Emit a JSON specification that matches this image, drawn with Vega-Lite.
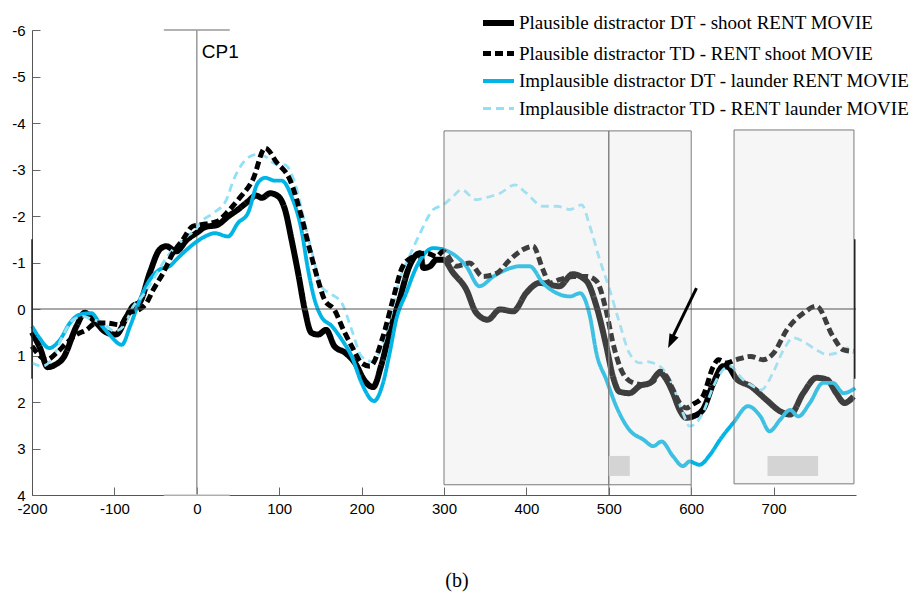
{
  "$schema": "https://vega.github.io/schema/vega-lite/v6.json",
  "width": 824,
  "height": 465,
  "autosize": {"type": "none"},
  "padding": {"left": 32, "top": 30, "right": 58, "bottom": 100},
  "background": "white",
  "config": {
    "view": {"stroke": null},
    "axis": {"labelFont": "Liberation Sans", "labelFontSize": 15, "labelColor": "#000", "domainColor": "#555", "tickColor": "#555", "grid": false, "title": null, "labelFlush": false}
  },
  "title": {"text": "(b)", "orient": "bottom", "anchor": "middle", "font": "Liberation Serif", "fontSize": 20, "fontWeight": "normal", "offset": 55, "dx": 13, "color": "#000"},
  "datasets": {
    "curves": [
      {"s":"pDT","t":-200,"v":0.5},{"s":"pDT","t":-190,"v":0.85},{"s":"pDT","t":-181,"v":1.25},{"s":"pDT","t":-172,"v":1.2},{"s":"pDT","t":-162,"v":1.05},{"s":"pDT","t":-146,"v":0.37},{"s":"pDT","t":-136,"v":0.08},{"s":"pDT","t":-126,"v":0.22},{"s":"pDT","t":-110,"v":0.5},{"s":"pDT","t":-98,"v":0.55},{"s":"pDT","t":-85,"v":0.16},{"s":"pDT","t":-78,"v":-0.05},{"s":"pDT","t":-69,"v":-0.15},{"s":"pDT","t":-57,"v":-0.78},{"s":"pDT","t":-45,"v":-1.28},{"s":"pDT","t":-37,"v":-1.35},{"s":"pDT","t":-25,"v":-1.24},{"s":"pDT","t":-12,"v":-1.49},{"s":"pDT","t":0,"v":-1.64},{"s":"pDT","t":10,"v":-1.76},{"s":"pDT","t":25,"v":-1.81},{"s":"pDT","t":38,"v":-1.99},{"s":"pDT","t":50,"v":-2.14},{"s":"pDT","t":62,"v":-2.31},{"s":"pDT","t":72,"v":-2.44},{"s":"pDT","t":79,"v":-2.39},{"s":"pDT","t":89,"v":-2.49},{"s":"pDT","t":99,"v":-2.42},{"s":"pDT","t":107,"v":-2.14},{"s":"pDT","t":115,"v":-1.49},{"s":"pDT","t":123,"v":-0.77},{"s":"pDT","t":131,"v":0.01},{"s":"pDT","t":139,"v":0.51},{"s":"pDT","t":147,"v":0.55},{"s":"pDT","t":157,"v":0.45},{"s":"pDT","t":167,"v":0.8},{"s":"pDT","t":180,"v":0.94},{"s":"pDT","t":192,"v":1.16},{"s":"pDT","t":204,"v":1.55},{"s":"pDT","t":214,"v":1.68},{"s":"pDT","t":224,"v":1.2},{"s":"pDT","t":234,"v":0.51},{"s":"pDT","t":246,"v":-0.2},{"s":"pDT","t":258,"v":-0.92},{"s":"pDT","t":271,"v":-1.2},{"s":"pDT","t":275,"v":-0.88},{"s":"pDT","t":283,"v":-0.92},{"s":"pDT","t":291,"v":-1.06},{"s":"pDT","t":299,"v":-1.06},{"s":"pDT","t":311,"v":-0.78},{"s":"pDT","t":327,"v":-0.42},{"s":"pDT","t":339,"v":0.08},{"s":"pDT","t":353,"v":0.23},{"s":"pDT","t":368,"v":0.01},{"s":"pDT","t":384,"v":0.05},{"s":"pDT","t":400,"v":-0.35},{"s":"pDT","t":416,"v":-0.56},{"s":"pDT","t":440,"v":-0.49},{"s":"pDT","t":456,"v":-0.75},{"s":"pDT","t":473,"v":-0.6},{"s":"pDT","t":485,"v":-0.06},{"s":"pDT","t":497,"v":0.8},{"s":"pDT","t":505,"v":1.45},{"s":"pDT","t":513,"v":1.78},{"s":"pDT","t":525,"v":1.81},{"s":"pDT","t":538,"v":1.65},{"s":"pDT","t":550,"v":1.59},{"s":"pDT","t":562,"v":1.37},{"s":"pDT","t":570,"v":1.52},{"s":"pDT","t":578,"v":1.81},{"s":"pDT","t":586,"v":2.17},{"s":"pDT","t":594,"v":2.34},{"s":"pDT","t":602,"v":2.31},{"s":"pDT","t":614,"v":2.17},{"s":"pDT","t":627,"v":1.59},{"s":"pDT","t":639,"v":1.23},{"s":"pDT","t":645,"v":1.25},{"s":"pDT","t":655,"v":1.5},{"s":"pDT","t":672,"v":1.66},{"s":"pDT","t":691,"v":1.95},{"s":"pDT","t":708,"v":2.2},{"s":"pDT","t":720,"v":2.27},{"s":"pDT","t":736,"v":1.81},{"s":"pDT","t":752,"v":1.48},{"s":"pDT","t":765,"v":1.52},{"s":"pDT","t":776,"v":1.81},{"s":"pDT","t":786,"v":2.02},{"s":"pDT","t":797,"v":1.88},

      {"s":"iDT","t":-200,"v":0.37},{"s":"iDT","t":-191,"v":0.62},{"s":"iDT","t":-179,"v":0.84},{"s":"iDT","t":-166,"v":0.66},{"s":"iDT","t":-154,"v":0.3},{"s":"iDT","t":-142,"v":0.12},{"s":"iDT","t":-128,"v":0.09},{"s":"iDT","t":-118,"v":0.3},{"s":"iDT","t":-106,"v":0.55},{"s":"iDT","t":-91,"v":0.77},{"s":"iDT","t":-81,"v":0.37},{"s":"iDT","t":-69,"v":-0.2},{"s":"iDT","t":-57,"v":-0.63},{"s":"iDT","t":-45,"v":-0.85},{"s":"iDT","t":-33,"v":-0.92},{"s":"iDT","t":-25,"v":-1.06},{"s":"iDT","t":-12,"v":-1.28},{"s":"iDT","t":0,"v":-1.45},{"s":"iDT","t":10,"v":-1.56},{"s":"iDT","t":22,"v":-1.63},{"s":"iDT","t":38,"v":-1.56},{"s":"iDT","t":50,"v":-1.85},{"s":"iDT","t":62,"v":-2.06},{"s":"iDT","t":74,"v":-2.71},{"s":"iDT","t":83,"v":-2.82},{"s":"iDT","t":95,"v":-2.76},{"s":"iDT","t":103,"v":-2.76},{"s":"iDT","t":115,"v":-2.42},{"s":"iDT","t":127,"v":-1.7},{"s":"iDT","t":135,"v":-0.85},{"s":"iDT","t":143,"v":-0.2},{"s":"iDT","t":151,"v":0.16},{"s":"iDT","t":164,"v":0.37},{"s":"iDT","t":176,"v":0.66},{"s":"iDT","t":188,"v":1.02},{"s":"iDT","t":200,"v":1.59},{"s":"iDT","t":215,"v":1.98},{"s":"iDT","t":226,"v":1.59},{"s":"iDT","t":234,"v":0.95},{"s":"iDT","t":242,"v":0.23},{"s":"iDT","t":254,"v":-0.34},{"s":"iDT","t":267,"v":-0.92},{"s":"iDT","t":279,"v":-1.24},{"s":"iDT","t":287,"v":-1.31},{"s":"iDT","t":299,"v":-1.28},{"s":"iDT","t":315,"v":-1.13},{"s":"iDT","t":327,"v":-0.92},{"s":"iDT","t":343,"v":-0.49},{"s":"iDT","t":360,"v":-0.7},{"s":"iDT","t":376,"v":-0.85},{"s":"iDT","t":392,"v":-0.92},{"s":"iDT","t":404,"v":-0.92},{"s":"iDT","t":420,"v":-0.56},{"s":"iDT","t":437,"v":-0.34},{"s":"iDT","t":453,"v":-0.27},{"s":"iDT","t":465,"v":-0.34},{"s":"iDT","t":477,"v":0.15},{"s":"iDT","t":485,"v":0.95},{"s":"iDT","t":497,"v":1.52},{"s":"iDT","t":509,"v":2.09},{"s":"iDT","t":525,"v":2.6},{"s":"iDT","t":542,"v":2.81},{"s":"iDT","t":554,"v":2.95},{"s":"iDT","t":564,"v":2.85},{"s":"iDT","t":578,"v":3.17},{"s":"iDT","t":590,"v":3.38},{"s":"iDT","t":598,"v":3.28},{"s":"iDT","t":610,"v":3.35},{"s":"iDT","t":623,"v":3.13},{"s":"iDT","t":635,"v":2.81},{"s":"iDT","t":651,"v":2.45},{"s":"iDT","t":669,"v":2.09},{"s":"iDT","t":684,"v":2.31},{"s":"iDT","t":695,"v":2.63},{"s":"iDT","t":708,"v":2.38},{"s":"iDT","t":720,"v":2.17},{"s":"iDT","t":730,"v":2.31},{"s":"iDT","t":744,"v":2.02},{"s":"iDT","t":760,"v":1.59},{"s":"iDT","t":772,"v":1.59},{"s":"iDT","t":785,"v":1.81},{"s":"iDT","t":799,"v":1.7},

      {"s":"iTD","t":-200,"v":1.16},{"s":"iTD","t":-187,"v":1.23},{"s":"iTD","t":-174,"v":1.02},{"s":"iTD","t":-162,"v":0.55},{"s":"iTD","t":-150,"v":0.23},{"s":"iTD","t":-138,"v":0.16},{"s":"iTD","t":-126,"v":0.23},{"s":"iTD","t":-114,"v":0.3},{"s":"iTD","t":-100,"v":0.48},{"s":"iTD","t":-89,"v":0.37},{"s":"iTD","t":-77,"v":-0.06},{"s":"iTD","t":-65,"v":-0.3},{"s":"iTD","t":-53,"v":-0.63},{"s":"iTD","t":-41,"v":-0.99},{"s":"iTD","t":-29,"v":-1.28},{"s":"iTD","t":-12,"v":-1.56},{"s":"iTD","t":0,"v":-1.74},{"s":"iTD","t":4,"v":-1.85},{"s":"iTD","t":20,"v":-2.06},{"s":"iTD","t":36,"v":-2.35},{"s":"iTD","t":44,"v":-2.75},{"s":"iTD","t":56,"v":-3.14},{"s":"iTD","t":72,"v":-3.32},{"s":"iTD","t":83,"v":-3.28},{"s":"iTD","t":95,"v":-3.12},{"s":"iTD","t":107,"v":-3.1},{"s":"iTD","t":119,"v":-2.71},{"s":"iTD","t":131,"v":-1.85},{"s":"iTD","t":141,"v":-1.13},{"s":"iTD","t":151,"v":-0.49},{"s":"iTD","t":164,"v":-0.31},{"s":"iTD","t":176,"v":-0.13},{"s":"iTD","t":188,"v":0.45},{"s":"iTD","t":200,"v":1.02},{"s":"iTD","t":214,"v":1.13},{"s":"iTD","t":221,"v":0.95},{"s":"iTD","t":234,"v":0.23},{"s":"iTD","t":246,"v":-0.63},{"s":"iTD","t":258,"v":-1.13},{"s":"iTD","t":271,"v":-1.63},{"s":"iTD","t":287,"v":-2.14},{"s":"iTD","t":299,"v":-2.24},{"s":"iTD","t":311,"v":-2.42},{"s":"iTD","t":321,"v":-2.57},{"s":"iTD","t":339,"v":-2.35},{"s":"iTD","t":356,"v":-2.42},{"s":"iTD","t":368,"v":-2.49},{"s":"iTD","t":386,"v":-2.67},{"s":"iTD","t":400,"v":-2.49},{"s":"iTD","t":420,"v":-2.21},{"s":"iTD","t":437,"v":-2.21},{"s":"iTD","t":453,"v":-2.14},{"s":"iTD","t":467,"v":-2.24},{"s":"iTD","t":477,"v":-1.78},{"s":"iTD","t":489,"v":-1.06},{"s":"iTD","t":501,"v":-0.42},{"s":"iTD","t":513,"v":0.3},{"s":"iTD","t":525,"v":0.95},{"s":"iTD","t":538,"v":1.16},{"s":"iTD","t":546,"v":1.13},{"s":"iTD","t":554,"v":1.16},{"s":"iTD","t":566,"v":1.3},{"s":"iTD","t":578,"v":1.66},{"s":"iTD","t":590,"v":2.24},{"s":"iTD","t":598,"v":2.52},{"s":"iTD","t":606,"v":2.45},{"s":"iTD","t":614,"v":2.24},{"s":"iTD","t":627,"v":1.66},{"s":"iTD","t":639,"v":1.3},{"s":"iTD","t":647,"v":1.23},{"s":"iTD","t":663,"v":1.52},{"s":"iTD","t":675,"v":1.66},{"s":"iTD","t":685,"v":1.74},{"s":"iTD","t":699,"v":1.38},{"s":"iTD","t":712,"v":0.88},{"s":"iTD","t":724,"v":0.62},{"s":"iTD","t":736,"v":0.7},{"s":"iTD","t":752,"v":0.88},{"s":"iTD","t":765,"v":0.98},{"s":"iTD","t":776,"v":0.95},{"s":"iTD","t":789,"v":0.84},{"s":"iTD","t":797,"v":0.8},

      {"s":"pTD","t":-200,"v":0.8},{"s":"pTD","t":-182,"v":1.09},{"s":"pTD","t":-170,"v":0.94},{"s":"pTD","t":-158,"v":0.73},{"s":"pTD","t":-146,"v":0.55},{"s":"pTD","t":-134,"v":0.45},{"s":"pTD","t":-122,"v":0.3},{"s":"pTD","t":-110,"v":0.3},{"s":"pTD","t":-93,"v":0.34},{"s":"pTD","t":-83,"v":0.09},{"s":"pTD","t":-69,"v":0.0},{"s":"pTD","t":-61,"v":-0.13},{"s":"pTD","t":-53,"v":-0.41},{"s":"pTD","t":-41,"v":-0.77},{"s":"pTD","t":-29,"v":-1.2},{"s":"pTD","t":-17,"v":-1.49},{"s":"pTD","t":-5,"v":-1.78},{"s":"pTD","t":4,"v":-1.81},{"s":"pTD","t":24,"v":-1.88},{"s":"pTD","t":40,"v":-2.14},{"s":"pTD","t":52,"v":-2.39},{"s":"pTD","t":68,"v":-2.78},{"s":"pTD","t":83,"v":-3.46},{"s":"pTD","t":97,"v":-3.15},{"s":"pTD","t":113,"v":-2.78},{"s":"pTD","t":127,"v":-1.99},{"s":"pTD","t":137,"v":-1.28},{"s":"pTD","t":147,"v":-0.63},{"s":"pTD","t":155,"v":-0.2},{"s":"pTD","t":167,"v":0.02},{"s":"pTD","t":178,"v":0.45},{"s":"pTD","t":188,"v":0.8},{"s":"pTD","t":200,"v":1.16},{"s":"pTD","t":210,"v":1.23},{"s":"pTD","t":226,"v":0.59},{"s":"pTD","t":238,"v":-0.2},{"s":"pTD","t":250,"v":-0.92},{"s":"pTD","t":263,"v":-1.13},{"s":"pTD","t":279,"v":-1.2},{"s":"pTD","t":291,"v":-1.13},{"s":"pTD","t":299,"v":-1.24},{"s":"pTD","t":315,"v":-0.92},{"s":"pTD","t":331,"v":-0.99},{"s":"pTD","t":347,"v":-0.7},{"s":"pTD","t":364,"v":-0.77},{"s":"pTD","t":380,"v":-1.06},{"s":"pTD","t":396,"v":-1.28},{"s":"pTD","t":408,"v":-1.35},{"s":"pTD","t":420,"v":-0.85},{"s":"pTD","t":428,"v":-0.56},{"s":"pTD","t":440,"v":-0.63},{"s":"pTD","t":457,"v":-0.7},{"s":"pTD","t":473,"v":-0.7},{"s":"pTD","t":485,"v":-0.6},{"s":"pTD","t":497,"v":0.05},{"s":"pTD","t":505,"v":0.73},{"s":"pTD","t":517,"v":1.38},{"s":"pTD","t":530,"v":1.59},{"s":"pTD","t":542,"v":1.63},{"s":"pTD","t":554,"v":1.56},{"s":"pTD","t":562,"v":1.34},{"s":"pTD","t":570,"v":1.45},{"s":"pTD","t":578,"v":1.74},{"s":"pTD","t":586,"v":2.02},{"s":"pTD","t":594,"v":2.13},{"s":"pTD","t":602,"v":2.05},{"s":"pTD","t":614,"v":1.88},{"s":"pTD","t":627,"v":1.23},{"s":"pTD","t":633,"v":1.09},{"s":"pTD","t":643,"v":1.16},{"s":"pTD","t":655,"v":1.09},{"s":"pTD","t":672,"v":1.02},{"s":"pTD","t":687,"v":1.09},{"s":"pTD","t":700,"v":0.95},{"s":"pTD","t":716,"v":0.45},{"s":"pTD","t":736,"v":0.09},{"s":"pTD","t":752,"v":-0.06},{"s":"pTD","t":772,"v":0.59},{"s":"pTD","t":785,"v":0.88},{"s":"pTD","t":797,"v":0.91}
    ]
  },
  "layer": [
    {
      "data": {"values": [{"x": 0, "x2": 0, "y": -6, "y2": 4}, {"x": -40, "x2": 40, "y": -6, "y2": -6}]},
      "mark": {"type": "rule", "color": "#999999", "strokeWidth": 1.5},
      "encoding": {
        "x": {"field": "x", "type": "quantitative", "scale": {"domain": [-200, 800], "nice": false, "zero": false}, "axis": {"values": [-200, -100, 0, 100, 200, 300, 400, 500, 600, 700], "tickSize": -8, "labelPadding": 14, "tickColor": "#666", "labelExpr": "toString(datum.value)"}},
        "x2": {"field": "x2"},
        "y": {"field": "y", "type": "quantitative", "scale": {"domain": [-6, 4], "reverse": true, "nice": false, "zero": false}, "axis": {"values": [-6, -5, -4, -3, -2, -1, 0, 1, 2, 3, 4], "tickSize": -8, "labelPadding": 15, "tickColor": "#666", "labelExpr": "toString(datum.value)"}},
        "y2": {"field": "y2"}
      }
    },
    {
      "data": {"values": [{"x": -40, "x2": 40, "y": 4, "y2": 4}]},
      "mark": {"type": "rule", "color": "#cccccc", "strokeWidth": 1.5},
      "encoding": {"x": {"field": "x", "type": "quantitative"}, "x2": {"field": "x2"}, "y": {"field": "y", "type": "quantitative"}, "y2": {"field": "y2"}}
    },
    {
      "data": {"values": [{"t": 6, "v": -5.53, "label": "CP1"}]},
      "mark": {"type": "text", "align": "left", "baseline": "middle", "font": "Liberation Sans", "fontSize": 19, "color": "#000"},
      "encoding": {"x": {"field": "t", "type": "quantitative"}, "y": {"field": "v", "type": "quantitative"}, "text": {"field": "label"}}
    },
    {
      "data": {"name": "curves"},
      "mark": {"type": "line", "interpolate": "monotone", "strokeCap": "butt", "strokeJoin": "round"},
      "encoding": {
        "x": {"field": "t", "type": "quantitative"},
        "y": {"field": "v", "type": "quantitative"},
        "color": {"field": "s", "type": "nominal", "scale": {"domain": ["pDT", "pTD", "iDT", "iTD"], "range": ["#000000", "#000000", "#00b5e5", "#8fe1f7"]},
          "legend": {"title": null, "orient": "none", "legendX": 448, "legendY": -25.5, "symbolType": "stroke", "symbolSize": 961, "labelFont": "Liberation Serif", "labelFontSize": 19, "labelColor": "#000", "labelOffset": 2, "labelLimit": 600, "rowPadding": -6,
            "labelExpr": "{'pDT': 'Plausible distractor DT - shoot RENT MOVIE', 'pTD': 'Plausible distractor TD - RENT shoot MOVIE', 'iDT': 'Implausible distractor DT - launder RENT MOVIE', 'iTD': 'Implausible distractor TD - RENT launder MOVIE'}[datum.label]"}},
        "strokeDash": {"field": "s", "type": "nominal", "scale": {"domain": ["pDT", "pTD", "iDT", "iTD"], "range": [[1, 0], [8, 4], [1, 0], [8, 5]]}, "legend": {"title": null}},
        "strokeWidth": {"field": "s", "type": "nominal", "scale": {"domain": ["pDT", "pTD", "iDT", "iTD"], "range": [6, 2.8, 6, 3]}, "legend": {"title": null}},
        "order": {"field": "t", "type": "quantitative"}
      }
    },
    {
      "data": {"values": [{"x": 300, "x2": 500, "y": -3.83, "y2": 3.78}, {"x": 500, "x2": 600, "y": -3.83, "y2": 3.78}, {"x": 652, "x2": 797.5, "y": -3.85, "y2": 3.76}]},
      "mark": {"type": "rect", "fill": "#e0e0e0", "fillOpacity": 0.28, "stroke": "#7a7a7a", "strokeWidth": 1},
      "encoding": {"x": {"field": "x", "type": "quantitative"}, "x2": {"field": "x2"}, "y": {"field": "y", "type": "quantitative"}, "y2": {"field": "y2"}}
    },
    {
      "data": {"values": [{"x": 500, "x2": 525.5, "y": 3.16, "y2": 3.59}, {"x": 692.6, "x2": 754, "y": 3.16, "y2": 3.59}]},
      "mark": {"type": "rect", "fill": "#d4d4d4"},
      "encoding": {"x": {"field": "x", "type": "quantitative"}, "x2": {"field": "x2"}, "y": {"field": "y", "type": "quantitative"}, "y2": {"field": "y2"}}
    },
    {
      "data": {"values": [{"x": 500, "x2": 500, "y": 3.78, "y2": 4}, {"x": 600, "x2": 600, "y": 3.78, "y2": 4}]},
      "mark": {"type": "rule", "color": "#7a7a7a", "strokeWidth": 1},
      "encoding": {"x": {"field": "x", "type": "quantitative"}, "x2": {"field": "x2"}, "y": {"field": "y", "type": "quantitative"}, "y2": {"field": "y2"}}
    },
    {
      "data": {"values": [{"x": -200, "x2": 800, "y": 0, "y2": 0}]},
      "mark": {"type": "rule", "color": "#555555", "strokeWidth": 1},
      "encoding": {"x": {"field": "x", "type": "quantitative"}, "x2": {"field": "x2"}, "y": {"field": "y", "type": "quantitative"}, "y2": {"field": "y2"}}
    },
    {
      "data": {"values": [{"x": -200, "x2": -200, "y": -1.5, "y2": 1.5}, {"x": 798.5, "x2": 798.5, "y": -1.5, "y2": 1.5}]},
      "mark": {"type": "rule", "color": "#222222", "strokeWidth": 1.5},
      "encoding": {"x": {"field": "x", "type": "quantitative"}, "x2": {"field": "x2"}, "y": {"field": "y", "type": "quantitative"}, "y2": {"field": "y2"}}
    },
    {
      "data": {"values": [{"x": 606.4, "x2": 577, "y": -0.45, "y2": 0.62}]},
      "mark": {"type": "rule", "color": "#000000", "strokeWidth": 3},
      "encoding": {"x": {"field": "x", "type": "quantitative"}, "x2": {"field": "x2"}, "y": {"field": "y", "type": "quantitative"}, "y2": {"field": "y2"}}
    },
    {
      "data": {"values": [{"x": 572, "y": 0.84}]},
      "mark": {"type": "point", "shape": "M0,0L-0.5,1.4L0.5,1.4Z", "filled": true, "color": "#000000", "opacity": 1, "size": 400, "angle": 205},
      "encoding": {"x": {"field": "x", "type": "quantitative"}, "y": {"field": "y", "type": "quantitative"}}
    }
  ]
}
